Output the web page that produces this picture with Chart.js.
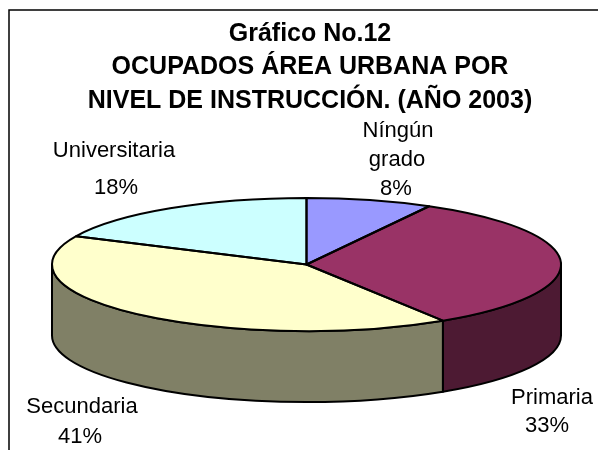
<!DOCTYPE html>
<html>
<head>
<meta charset="utf-8">
<style>
	html, body { margin: 0; padding: 0; background: #fff; }
	canvas { display: block; }
</style>
<script src="https://cdn.jsdelivr.net/npm/chart.js@4"></script>
</head>
<body>
<canvas id="chart" width="598" height="450"></canvas>
<script>
var categories = ['Níngún grado', 'Primaria', 'Secundaria', 'Universitaria'];
var percentValues = [8, 33, 41, 18];
var topColors = ['#9999FF', '#993366', '#FFFFCC', '#CCFFFF'];
var sideColors = ['#4D4D80', '#4D1A33', '#808066', '#668080'];
var titleLines = ['Gráfico No.12', 'OCUPADOS ÁREA URBANA POR', 'NIVEL DE INSTRUCCIÓN. (AÑO 2003)'];
var labelLines = [['Níngún', 'grado', '8%'], ['Primaria', '33%'], ['Secundaria', '41%'], ['Universitaria', '18%']];

// 3d look: the library arcs get squashed, wall and outlines are drawn around them
var pieCx = 306.5, pieCy = 264.5, pieRx = 254.5, pieRy = 66.5, pieDepth = 71;

var labelSpots = [
	[{x: 398, y: 131}, {x: 397, y: 160}, {x: 396, y: 189}],
	[{x: 552, y: 398}, {x: 547, y: 426}],
	[{x: 82, y: 407}, {x: 80, y: 437}],
	[{x: 114, y: 151}, {x: 116, y: 188}]
];

var pie3d = {
	id: 'pie3d',
	beforeDraw: function(chart) {
		var ctx = chart.ctx;
		ctx.save();
		ctx.strokeStyle = '#000';
		ctx.lineWidth = 1.5;
		ctx.beginPath();
		ctx.moveTo(9, 450);
		ctx.lineTo(9, 10);
		ctx.lineTo(598, 10);
		ctx.stroke();
		ctx.restore();
	},
	beforeDatasetDraw: function(chart, args) {
		var ctx = chart.ctx;
		var arcs = args.meta.data;
		ctx.save();
		ctx.lineWidth = 2;
		ctx.strokeStyle = '#000';
		ctx.lineJoin = 'round';
		arcs.forEach(function(arc, i) {
			var a = Math.max(arc.startAngle, 0);
			var b = Math.min(arc.endAngle, Math.PI);
			if (b <= a) return;
			ctx.beginPath();
			ctx.ellipse(pieCx, pieCy, pieRx, pieRy, 0, a, b);
			ctx.ellipse(pieCx, pieCy + pieDepth, pieRx, pieRy, 0, b, a, true);
			ctx.closePath();
			ctx.fillStyle = sideColors[i];
			ctx.fill();
			ctx.stroke();
		});
		ctx.restore();

		ctx.save();
		var arc0 = arcs[0];
		ctx.translate(pieCx, pieCy);
		ctx.scale(1, pieRy / pieRx);
		ctx.translate(-arc0.x, -arc0.y);
	},
	afterDatasetDraw: function(chart, args) {
		var ctx = chart.ctx;
		ctx.restore();
		ctx.save();
		ctx.lineWidth = 2;
		ctx.strokeStyle = '#000';
		ctx.lineJoin = 'round';
		args.meta.data.forEach(function(arc) {
			ctx.beginPath();
			ctx.moveTo(pieCx, pieCy);
			ctx.ellipse(pieCx, pieCy, pieRx, pieRy, 0, arc.startAngle, arc.endAngle);
			ctx.closePath();
			ctx.stroke();
		});
		ctx.restore();
	},
	afterDraw: function(chart) {
		var ctx = chart.ctx;
		ctx.save();
		ctx.fillStyle = '#000';
		ctx.font = '22px "Liberation Sans", Arial, sans-serif';
		ctx.textAlign = 'center';
		ctx.textBaseline = 'middle';
		labelLines.forEach(function(lines, i) {
			lines.forEach(function(line, j) {
				ctx.fillText(line, labelSpots[i][j].x, labelSpots[i][j].y);
			});
		});
		ctx.restore();
	}
};

new Chart(document.getElementById('chart'), {
	type: 'pie',
	data: {
		labels: categories,
		datasets: [{
			data: percentValues,
			backgroundColor: topColors,
			borderWidth: 0,
			radius: pieRx,
			clip: false
		}]
	},
	options: {
		responsive: false,
		animation: false,
		events: [],
		layout: { padding: { left: 22 } },
		plugins: {
			legend: { display: false },
			tooltip: { enabled: false },
			title: {
				display: true,
				text: titleLines,
				color: '#000',
				font: { family: '"Liberation Sans", Arial, sans-serif', size: 25, weight: 'bold', lineHeight: 1.34 },
				padding: { top: 17, bottom: 0 }
			}
		}
	},
	plugins: [pie3d]
});
</script>
</body>
</html>
